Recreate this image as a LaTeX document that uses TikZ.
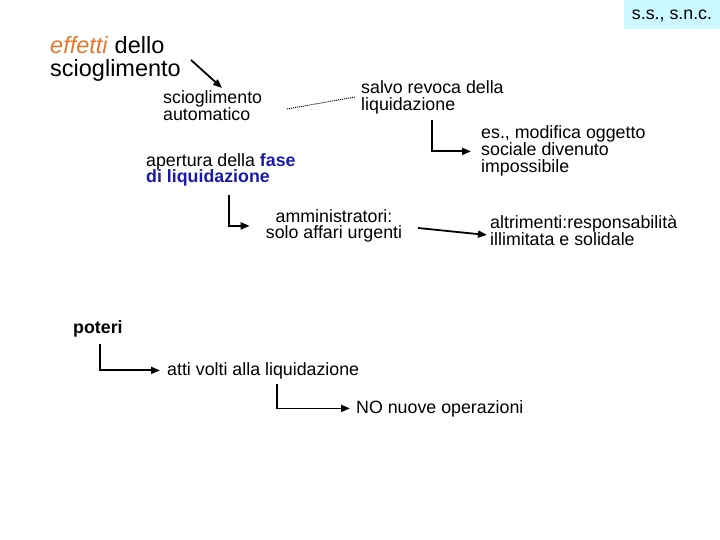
\documentclass[tikz,border=0pt]{standalone}
\usepackage{fontspec}
\setmainfont{Liberation Sans}
\usetikzlibrary{arrows.meta}
\definecolor{orng}{HTML}{E8772E}
\definecolor{dblue}{HTML}{1A1AAA}
\definecolor{lcyan}{HTML}{CCF8FF}
\tikzset{
  txt/.style={inner sep=0pt, align=left, anchor=base west, font=\fontsize{17.8}{17}\selectfont},
  big/.style={inner sep=0pt, align=left, anchor=base west, font=\fontsize{23.5}{23.5}\selectfont},
  conn/.style={line width=1.8pt, -{Triangle[length=9pt,width=7pt]}},
  elbow/.style={line width=1.8pt, -{Triangle[length=9pt,width=7pt]}},
}
\begin{document}
\begin{tikzpicture}[x=1pt,y=-1pt]
\useasboundingbox (0,0) rectangle (720,540);
\fill[lcyan] (624,0) rectangle (720,29);
\node[txt, anchor=base] (ss) at (672,20) {s.s., s.n.c.};

\node[big] (eff) at (50,77) {\textcolor{orng}{\textit{effetti}} dello\\scioglimento};
\node[txt] (sa) at (163,121) {scioglimento\\automatico};
\node[txt] (sr) at (361,111) {salvo revoca della\\liquidazione};
\node[txt] (es) at (481,173) {es., modifica oggetto\\sociale divenuto\\impossibile};
\node[txt] (ap) at (146,183) {apertura della \textcolor{dblue}{\textbf{fase}}\\\textcolor{dblue}{\textbf{di liquidazione}}};
\node[txt, align=center, anchor=base] (am) at (334,239) {amministratori:\\solo affari urgenti};
\node[txt] (al) at (490,245) {altrimenti:responsabilità\\illimitata e solidale};
\node[txt] (pot) at (73,333) {\textbf{poteri}};
\node[txt] (atti) at (167,375) {atti volti alla liquidazione};
\node[txt] (no) at (356,413) {NO nuove operazioni};

\coordinate (e1) at (191,60);
\coordinate (e2) at (222,88);
\draw[conn] (e1) -- (e2);

\coordinate (d1) at (287,109);
\coordinate (d2) at (355,97);
\draw[densely dotted, line width=1pt] (d1) -- (d2);

\coordinate (k1) at (432,120);
\draw[elbow] (k1) |- ([xshift=-10pt]es.west);

\coordinate (k2) at (229,195);
\draw[elbow] (k2) |- ([xshift=-16pt]am.west);

\coordinate (a1) at (418,228);
\coordinate (a2) at (487,235);
\draw[conn] (a1) -- (a2);

\coordinate (k3) at (100,344);
\draw[elbow] (k3) |- ([xshift=-7pt]atti.west);

\coordinate (k4) at (277,384);
\draw[elbow] (k4) |- ([xshift=-6pt]no.west);
\end{tikzpicture}
\end{document}
